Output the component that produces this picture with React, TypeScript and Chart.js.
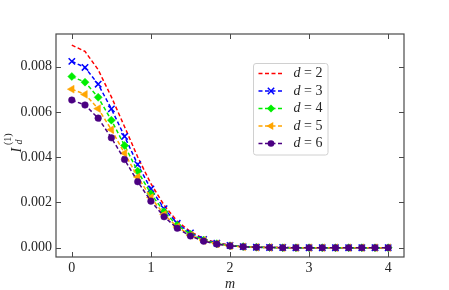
import React, { useEffect, useRef } from 'react';
import { Chart, registerables } from 'chart.js';

Chart.register(...registerables);

const mValues = [0, 0.1667, 0.3333, 0.5, 0.6667, 0.8333, 1, 1.1667, 1.3333, 1.5, 1.6667, 1.8333, 2, 2.1667, 2.3333, 2.5, 2.6667, 2.8333, 3, 3.1667, 3.3333, 3.5, 3.6667, 3.8333, 4];

const d2Values = [0.00896, 0.00868, 0.00787, 0.00667, 0.00535, 0.00401, 0.00283, 0.00188, 0.00117, 0.00071, 0.0004, 0.00022, 0.00011, 0.00005, 0.00003, 0.00001, 0.00001, 0, 0, 0, 0, 0, 0, 0, 0];
const d3Values = [0.00824, 0.00797, 0.00723, 0.00614, 0.00492, 0.00368, 0.0026, 0.00173, 0.00108, 0.00065, 0.00037, 0.0002, 0.0001, 0.00005, 0.00002, 0.00001, 0.00001, 0, 0, 0, 0, 0, 0, 0, 0];
const d4Values = [0.00757, 0.00732, 0.00665, 0.00564, 0.00452, 0.00338, 0.00239, 0.00159, 0.00099, 0.0006, 0.00034, 0.00018, 0.00009, 0.00005, 0.00002, 0.00001, 0, 0, 0, 0, 0, 0, 0, 0, 0];
const d5Values = [0.00701, 0.00678, 0.00615, 0.00522, 0.00418, 0.00313, 0.00222, 0.00147, 0.00092, 0.00055, 0.00032, 0.00017, 0.00008, 0.00004, 0.00002, 0.00001, 0, 0, 0, 0, 0, 0, 0, 0, 0];
const d6Values = [0.00653, 0.00631, 0.00573, 0.00486, 0.0039, 0.00292, 0.00206, 0.00137, 0.00086, 0.00052, 0.00029, 0.00016, 0.00008, 0.00004, 0.00002, 0.00001, 0, 0, 0, 0, 0, 0, 0, 0, 0];

const seriesLabels = ['2', '3', '4', '5', '6'];
const seriesValues = [d2Values, d3Values, d4Values, d5Values, d6Values];

const xTickValues = [0, 1, 2, 3, 4];
const yTickValues = [0, 0.002, 0.004, 0.006, 0.008];

const X_MIN = -0.2;
const X_MAX = 4.2;
const Y_MIN = -0.00041;
const Y_MAX = 0.00945;

const FONT = "'Liberation Serif', 'DejaVu Serif', serif";
const SPINE = '#4a4a4a';
const TEXT = '#262626';

type Style = { color: string; point: string; radius: number; rotation: number };
const styles: Style[] = [
  { color: '#ff0000', point: 'none', radius: 0, rotation: 0 },
  { color: '#0000ff', point: 'crossRot', radius: 4.5, rotation: 0 },
  { color: '#00ee00', point: 'rectRot', radius: 4, rotation: 0 },
  { color: '#ffa500', point: 'triangle', radius: 4.5, rotation: -90 },
  { color: '#4b0082', point: 'circle', radius: 3.3, rotation: 0 },
];

function drawMarker(ctx: CanvasRenderingContext2D, s: Style, x: number, y: number) {
  if (s.point === 'none') return;
  const r = s.radius;
  ctx.save();
  ctx.fillStyle = s.color;
  ctx.strokeStyle = s.color;
  ctx.lineWidth = 1.5;
  ctx.setLineDash([]);
  ctx.beginPath();
  if (s.point === 'circle') {
    ctx.arc(x, y, r, 0, Math.PI * 2);
    ctx.fill();
  } else if (s.point === 'crossRot') {
    const o = r * Math.SQRT1_2;
    ctx.moveTo(x - o, y - o); ctx.lineTo(x + o, y + o);
    ctx.moveTo(x + o, y - o); ctx.lineTo(x - o, y + o);
    ctx.stroke();
  } else if (s.point === 'rectRot') {
    ctx.moveTo(x - r, y); ctx.lineTo(x, y - r); ctx.lineTo(x + r, y); ctx.lineTo(x, y + r);
    ctx.closePath();
    ctx.fill();
  } else if (s.point === 'triangle') {
    ctx.moveTo(x - r, y);
    ctx.lineTo(x + r * 0.5, y - r * 0.866);
    ctx.lineTo(x + r * 0.5, y + r * 0.866);
    ctx.closePath();
    ctx.fill();
  }
  ctx.restore();
}

const decorPlugin = {
  id: 'decor',
  afterDraw(chart: any) {
    const ctx: CanvasRenderingContext2D = chart.ctx;
    const { left, right, top, bottom } = chart.chartArea;
    const xs = chart.scales.x;
    const ys = chart.scales.y;
    ctx.save();
    ctx.strokeStyle = SPINE;
    ctx.lineWidth = 1.2;
    ctx.setLineDash([]);
    ctx.strokeRect(left, top, right - left, bottom - top);
    const tl = 5;
    ctx.beginPath();
    xTickValues.forEach((v) => {
      const px = Math.round(xs.getPixelForValue(v)) + 0.5;
      ctx.moveTo(px, bottom); ctx.lineTo(px, bottom - tl);
      ctx.moveTo(px, top); ctx.lineTo(px, top + tl);
    });
    yTickValues.forEach((v) => {
      const py = Math.round(ys.getPixelForValue(v)) + 0.5;
      ctx.moveTo(left, py); ctx.lineTo(left + tl, py);
      ctx.moveTo(right, py); ctx.lineTo(right - tl, py);
    });
    ctx.lineWidth = 1;
    ctx.stroke();

    ctx.fillStyle = TEXT;
    ctx.font = `italic 14px ${FONT}`;
    ctx.textAlign = 'center';
    ctx.textBaseline = 'alphabetic';
    ctx.fillText('m', (left + right) / 2, 287.5);

    ctx.save();
    ctx.translate(20.5, 152.5);
    ctx.rotate(-Math.PI / 2);
    ctx.textAlign = 'left';
    ctx.font = `italic 14px ${FONT}`;
    ctx.fillText('I', 0, 0);
    ctx.font = `italic 10px ${FONT}`;
    ctx.fillText('d', 8, 1.5);
    ctx.font = `10px ${FONT}`;
    ctx.fillText('(1)', 7.5, -10);
    ctx.restore();

    const bx = left + 197.5;
    const by = top + 29.5;
    const bw = 74.5;
    const bh = 91.5;
    ctx.beginPath();
    const rr = 2.5;
    ctx.moveTo(bx + rr, by);
    ctx.lineTo(bx + bw - rr, by);
    ctx.quadraticCurveTo(bx + bw, by, bx + bw, by + rr);
    ctx.lineTo(bx + bw, by + bh - rr);
    ctx.quadraticCurveTo(bx + bw, by + bh, bx + bw - rr, by + bh);
    ctx.lineTo(bx + rr, by + bh);
    ctx.quadraticCurveTo(bx, by + bh, bx, by + bh - rr);
    ctx.lineTo(bx, by + rr);
    ctx.quadraticCurveTo(bx, by, bx + rr, by);
    ctx.closePath();
    ctx.fillStyle = 'rgba(255,255,255,0.8)';
    ctx.fill();
    ctx.strokeStyle = '#d0d0d0';
    ctx.lineWidth = 1;
    ctx.stroke();

    seriesLabels.forEach((lab, i) => {
      const s = styles[i];
      const cy = by + 10 + i * 17.5;
      const x0 = bx + 5;
      const x1 = bx + 30;
      ctx.beginPath();
      ctx.strokeStyle = s.color;
      ctx.lineWidth = 1.5;
      ctx.setLineDash([4, 2.5]);
      ctx.moveTo(x0, cy);
      ctx.lineTo(x1, cy);
      ctx.stroke();
      ctx.setLineDash([]);
      drawMarker(ctx, s, (x0 + x1) / 2, cy);
      ctx.fillStyle = TEXT;
      ctx.textAlign = 'left';
      ctx.textBaseline = 'middle';
      ctx.font = `italic 14px ${FONT}`;
      const tx = bx + 40;
      ctx.fillText('d', tx, cy);
      const w = ctx.measureText('d').width;
      ctx.font = `14px ${FONT}`;
      ctx.fillText(' = ' + lab, tx + w, cy);
    });
    ctx.restore();
  },
};

export default function App() {
  const ref = useRef<HTMLCanvasElement | null>(null);
  useEffect(() => {
    if (!ref.current) return;
    const datasets = seriesValues.map((vals, i) => {
      const s = styles[i];
      return {
        label: 'd = ' + seriesLabels[i],
        data: mValues.map((m, k) => ({ x: m, y: vals[k] })),
        borderColor: s.color,
        backgroundColor: s.color,
        borderWidth: 1.5,
        borderDash: [4, 2.5],
        tension: 0,
        fill: false,
        pointStyle: s.point === 'none' ? 'circle' : s.point,
        pointRadius: s.radius,
        pointRotation: s.rotation,
        pointBackgroundColor: s.color,
        pointBorderColor: s.color,
        pointBorderWidth: s.point === 'crossRot' ? 1.5 : 0.5,
        pointHoverRadius: s.radius,
        order: 5 - i,
      };
    });
    const chart = new Chart(ref.current, {
      type: 'line',
      data: { datasets } as any,
      options: {
        animation: false,
        responsive: false,
        devicePixelRatio: 1,
        layout: { padding: { left: 0, top: 34, right: 45, bottom: 0 } },
        plugins: { legend: { display: false }, tooltip: { enabled: false } },
        scales: {
          x: {
            type: 'linear',
            min: X_MIN,
            max: X_MAX,
            afterBuildTicks: (s: any) => { s.ticks = xTickValues.map((v) => ({ value: v })); },
            afterFit: (s: any) => { s.height = 33; },
            grid: { display: false, drawTicks: false },
            border: { display: false },
            ticks: { padding: 3, color: TEXT, font: { family: FONT, size: 14 }, callback: (v: any) => String(v), maxRotation: 0 },
          },
          y: {
            type: 'linear',
            min: Y_MIN,
            max: Y_MAX,
            afterBuildTicks: (s: any) => { s.ticks = yTickValues.map((v) => ({ value: v })); },
            afterFit: (s: any) => { s.width = 56; },
            grid: { display: false, drawTicks: false },
            border: { display: false },
            ticks: { padding: 4, color: TEXT, font: { family: FONT, size: 14 }, callback: (v: any) => Number(v).toFixed(3) },
          },
        },
      } as any,
      plugins: [decorPlugin],
    });
    return () => chart.destroy();
  }, []);
  return (
    <div style={{ position: 'fixed', left: 0, top: 0, width: 449, height: 290, background: '#fff' }}>
      <canvas ref={ref} width={449} height={290} style={{ width: 449, height: 290, display: 'block' }} />
    </div>
  );
}
